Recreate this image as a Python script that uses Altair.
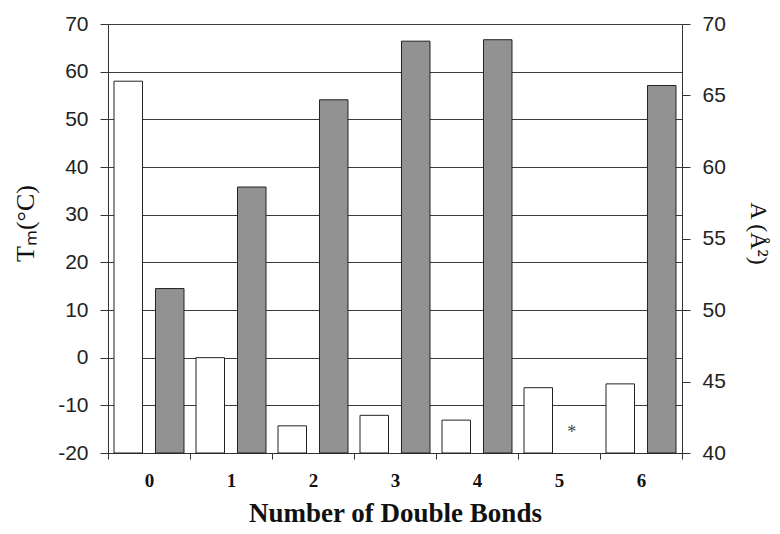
import altair as alt
import pandas as pd

bonds = [0, 1, 2, 3, 4, 5, 6]
tm_values = [58.0, 0.0, -14.3, -12.1, -13.1, -6.3, -5.5]
area_values = [51.5, 58.6, 64.7, 68.8, 68.9, None, 65.7]
missing_bond = [5]
missing_mark = ["*"]
missing_y = [41.4]

df_tm = pd.DataFrame({"bonds": bonds, "value": tm_values, "series": "Tm"})
df_a = pd.DataFrame({"bonds": bonds, "value": area_values, "series": "A"}).dropna()
df_star = pd.DataFrame({"bonds": missing_bond, "value": missing_y, "label": missing_mark, "series": "A"})

x_enc = alt.X(
    "bonds:O",
    scale=alt.Scale(paddingInner=0, paddingOuter=0),
    axis=alt.Axis(
        labelAngle=0, tickBand="extent", ticks=True, tickSize=6, tickColor="#333",
        domainColor="#333", grid=False,
        labelFont="Liberation Serif", labelFontWeight="bold", labelFontSize=19,
        labelColor="#111", labelPadding=12,
        title="Number of Double Bonds", titleFont="Liberation Serif",
        titleFontSize=27, titleFontWeight="bold", titleColor="#111",
        titleY=68, titleBaseline="alphabetic",
    ),
)
xoff = alt.XOffset(
    "series:N",
    scale=alt.Scale(domain=["Tm", "A"], paddingInner=0.313, paddingOuter=0.145),
)

tm_bars = alt.Chart(df_tm).mark_bar(
    fill="white", stroke="#222", strokeWidth=1
).encode(
    x=x_enc,
    xOffset=xoff,
    y=alt.Y(
        "value:Q",
        scale=alt.Scale(domain=[-20, 70], nice=False, zero=False),
        axis=alt.Axis(
            values=list(range(-20, 71, 10)), grid=True, gridColor="#3a3a3a", gridWidth=1,
            domainColor="#333", tickColor="#333", tickSize=8,
            labelFont="Liberation Sans", labelFontSize=21, labelColor="#222",
            labelPadding=12, labelExpr="'' + datum.value",
            title="Tₘ(°C)", titleFont="Liberation Serif", titleFontSize=26,
            titleFontWeight="normal", titleColor="#111",
            titleX=-83, titleY=199, titleAngle=-90, titleAlign="center",
            titleBaseline="middle",
        ),
    ),
    y2=alt.datum(-20),
)

a_bars = alt.Chart(df_a).mark_bar(
    fill="#929292", stroke="#222", strokeWidth=1
).encode(
    x=x_enc,
    xOffset=xoff,
    y=alt.Y(
        "value:Q",
        scale=alt.Scale(domain=[40, 70], nice=False, zero=False),
        axis=alt.Axis(
            orient="right", values=list(range(40, 71, 5)), grid=False,
            domainColor="#333", tickColor="#333", tickSize=8,
            labelFont="Liberation Sans", labelFontSize=21, labelColor="#222",
            labelPadding=12,
            title="A (Å²)", titleFont="Liberation Serif", titleFontSize=24,
            titleFontWeight="normal", titleColor="#111",
            titleX=75, titleY=209, titleAngle=90, titleAlign="center",
            titleBaseline="middle",
        ),
    ),
    y2=alt.datum(40),
)

star = alt.Chart(df_star).mark_text(
    font="Liberation Serif", fontSize=18, color="#444", dx=-8, baseline="middle"
).encode(
    x=x_enc,
    xOffset=xoff,
    y=alt.Y("value:Q", scale=alt.Scale(domain=[40, 70], nice=False, zero=False), axis=None),
    text="label:N",
)

chart = alt.layer(tm_bars, a_bars, star).resolve_scale(
    y="independent"
).properties(
    width=574, height=429,
    autosize=alt.AutoSizeParams(type="none"),
    padding={"left": 100, "top": 16, "right": 90, "bottom": 73},
).configure_view(stroke=None).configure(background="white")

chart.save("out.html", embed_options={"renderer": "svg", "actions": False})
